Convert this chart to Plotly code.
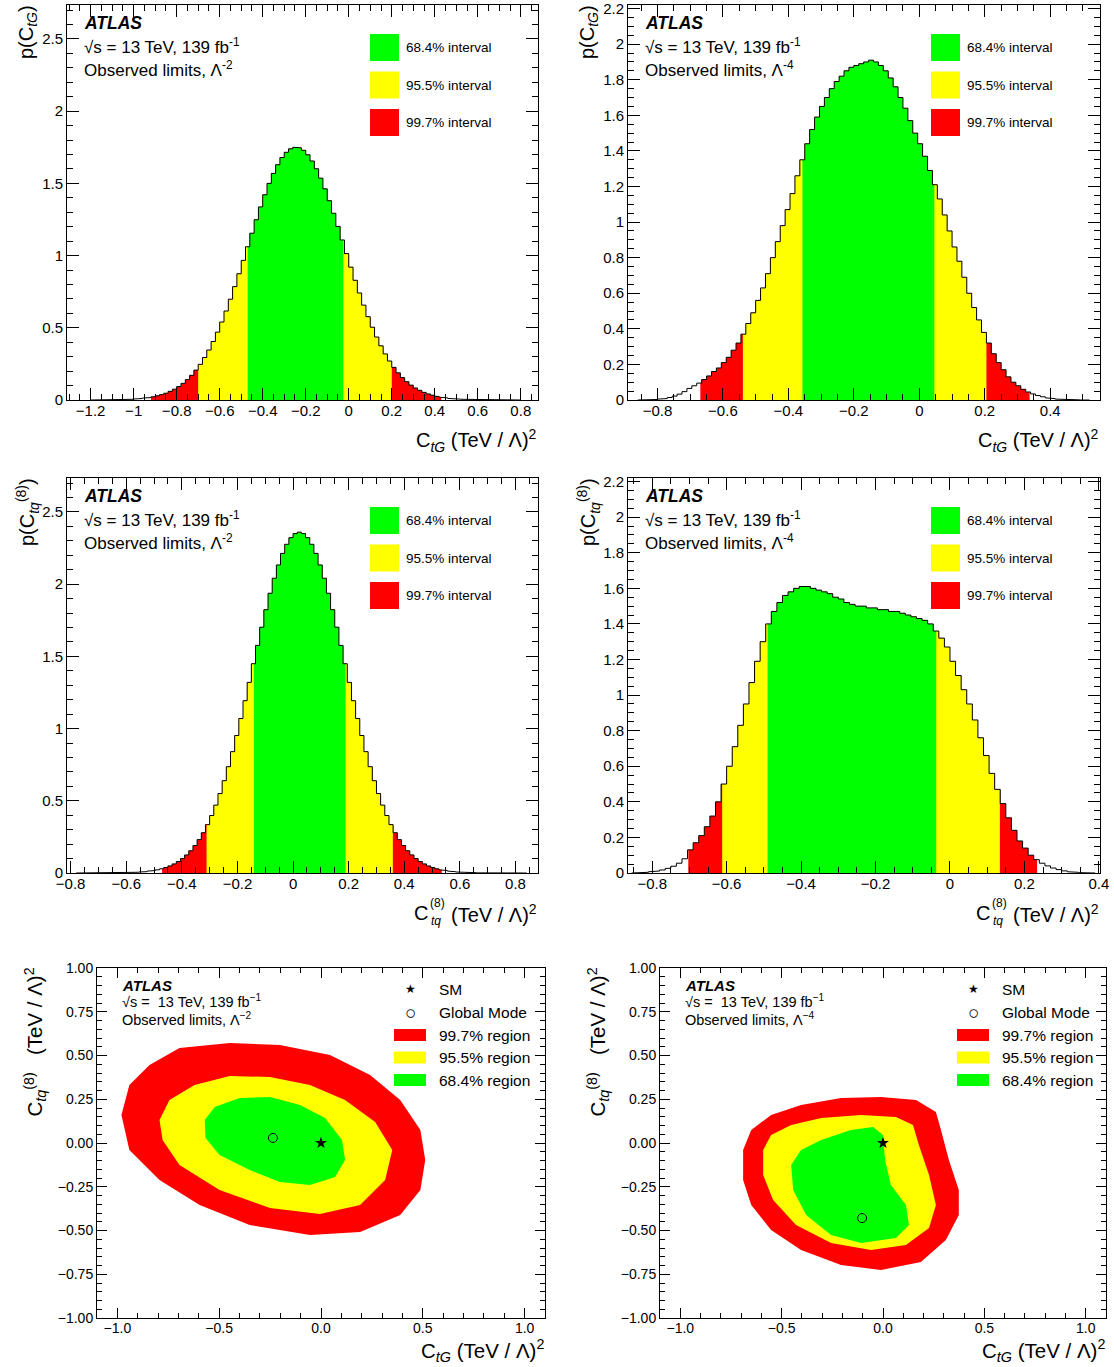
import plotly.graph_objects as go

W, H = 1114, 1367
FONT = "Liberation Sans"
GREEN, YELLOW, RED = "#00ff00", "#ffff00", "#ff0000"

# ---------------- 1D posterior densities ----------------
# C_tG, Lambda^-2
ctg_l2_start, ctg_l2_width = -1.20, 0.02
ctg_l2_density = [
    0.000, 0.000, 0.001, 0.001, 0.001, 0.002, 0.002, 0.003, 0.004, 0.005,
    0.007, 0.010, 0.013, 0.017, 0.022, 0.029, 0.037, 0.047, 0.060, 0.075,
    0.093, 0.115, 0.141, 0.171, 0.207, 0.247, 0.294, 0.346, 0.405, 0.470,
    0.540, 0.616, 0.698, 0.785, 0.874, 0.967, 1.061, 1.155, 1.248, 1.337,
    1.421, 1.500, 1.569, 1.629, 1.679, 1.715, 1.739, 1.750, 1.746, 1.729,
    1.698, 1.655, 1.601, 1.536, 1.462, 1.380, 1.293, 1.202, 1.108, 1.014,
    0.920, 0.829, 0.741, 0.657, 0.577, 0.504, 0.436, 0.375, 0.319, 0.270,
    0.226, 0.188, 0.155, 0.127, 0.103, 0.083, 0.067, 0.053, 0.042, 0.033,
    0.025, 0.019, 0.015, 0.011, 0.008, 0.006, 0.005, 0.003, 0.002, 0.002,
    0.001, 0.001, 0.001, 0.000, 0.000, 0.000, 0.000, 0.000, 0.000, 0.000,
]
ctg_l2_intervals = [(-0.92, 0.43), (-0.70, 0.20), (-0.47, -0.025)]

# C_tG, Lambda^-4
ctg_l4_start, ctg_l4_width = -0.86, 0.015
ctg_l4_density = [
    0.000, 0.001, 0.002, 0.003, 0.005, 0.008, 0.014, 0.022, 0.033, 0.047,
    0.065, 0.080, 0.095, 0.115, 0.135, 0.160, 0.180, 0.210, 0.240, 0.280,
    0.320, 0.370, 0.430, 0.490, 0.560, 0.630, 0.710, 0.800, 0.890, 0.980,
    1.070, 1.160, 1.260, 1.350, 1.440, 1.520, 1.590, 1.650, 1.700, 1.750,
    1.790, 1.820, 1.850, 1.870, 1.880, 1.890, 1.900, 1.910, 1.900, 1.880,
    1.850, 1.810, 1.760, 1.700, 1.640, 1.570, 1.500, 1.440, 1.370, 1.290,
    1.210, 1.130, 1.040, 0.950, 0.860, 0.780, 0.690, 0.600, 0.520, 0.450,
    0.380, 0.320, 0.260, 0.210, 0.170, 0.130, 0.100, 0.080, 0.060, 0.045,
    0.034, 0.025, 0.018, 0.012, 0.008, 0.005, 0.003, 0.002, 0.001, 0.001,
    0.000, 0.000,
]
ctg_l4_intervals = [(-0.669, 0.337), (-0.539, 0.205), (-0.357, 0.046)]

# C_tq^(8), Lambda^-2
ctq_l2_start, ctq_l2_width = -0.78, 0.015
ctq_l2_density = [
    0.000, 0.000, 0.000, 0.000, 0.000, 0.000, 0.000, 0.000, 0.000,
    0.001, 0.001, 0.002, 0.003, 0.004, 0.005, 0.007, 0.009, 0.013, 0.017,
    0.022, 0.029, 0.038, 0.049, 0.063, 0.079, 0.100, 0.125, 0.154, 0.190,
    0.231, 0.279, 0.335, 0.398, 0.470, 0.550, 0.639, 0.736, 0.840, 0.952,
    1.070, 1.193, 1.320, 1.449, 1.576, 1.702, 1.823, 1.937, 2.041, 2.133,
    2.213, 2.276, 2.322, 2.350, 2.360, 2.350, 2.322, 2.276, 2.213, 2.133,
    2.041, 1.937, 1.823, 1.702, 1.576, 1.449, 1.320, 1.193, 1.070, 0.952,
    0.840, 0.736, 0.639, 0.550, 0.470, 0.398, 0.335, 0.279, 0.231, 0.190,
    0.154, 0.125, 0.100, 0.079, 0.063, 0.049, 0.038, 0.029, 0.022, 0.017,
    0.013, 0.009, 0.007, 0.005, 0.004, 0.003, 0.002, 0.001, 0.001,
    0.000, 0.000, 0.000, 0.000, 0.000, 0.000, 0.000, 0.000, 0.000, 0.000,
]
ctq_l2_intervals = [(-0.471, 0.535), (-0.311, 0.359), (-0.141, 0.189)]

# C_tq^(8), Lambda^-4
ctq_l4_start, ctq_l4_width = -0.855, 0.015
ctq_l4_density = [
    0.000, 0.002, 0.004, 0.007, 0.011, 0.017, 0.026, 0.038, 0.055, 0.080,
    0.130, 0.170, 0.210, 0.260, 0.320, 0.400, 0.500, 0.600, 0.710, 0.830,
    0.950, 1.070, 1.190, 1.300, 1.400, 1.470, 1.520, 1.560, 1.580, 1.600,
    1.610, 1.610, 1.600, 1.590, 1.580, 1.570, 1.550, 1.540, 1.520, 1.510,
    1.500, 1.500, 1.490, 1.490, 1.480, 1.480, 1.470, 1.470, 1.460, 1.450,
    1.440, 1.430, 1.420, 1.400, 1.360, 1.320, 1.270, 1.190, 1.110, 1.030,
    0.950, 0.860, 0.760, 0.660, 0.560, 0.470, 0.390, 0.310, 0.240, 0.180,
    0.140, 0.100, 0.075, 0.055, 0.040, 0.028, 0.019, 0.012, 0.007, 0.004,
    0.002, 0.001, 0.000,
]
ctq_l4_intervals = [(-0.703, 0.234), (-0.612, 0.134), (-0.490, -0.037)]

interval_labels = ["68.4% interval", "95.5% interval", "99.7% interval"]

# ---------------- 2D credible regions (C_tG, C_tq^(8)) ----------------
# Lambda^-2
l2_red_x = [-0.980, -0.941, -0.842, -0.695, -0.448, -0.202, 0.044, 0.241, 0.389, 0.488,
            0.512, 0.488, 0.389, 0.192, -0.054, -0.350, -0.596, -0.793, -0.941]
l2_red_y = [0.160, 0.331, 0.446, 0.543, 0.571, 0.560, 0.503, 0.389, 0.246, 0.074,
            -0.097, -0.269, -0.411, -0.509, -0.526, -0.469, -0.354, -0.211, -0.040]
l2_yellow_x = [-0.793, -0.744, -0.621, -0.448, -0.251, -0.054, 0.118, 0.266, 0.350, 0.315,
               0.192, -0.005, -0.251, -0.498, -0.695, -0.778]
l2_yellow_y = [0.131, 0.246, 0.331, 0.383, 0.377, 0.331, 0.246, 0.120, -0.040, -0.211,
               -0.354, -0.406, -0.371, -0.269, -0.126, 0.017]
l2_green_x = [-0.571, -0.522, -0.399, -0.251, -0.103, 0.020, 0.103, 0.118, 0.069, -0.054,
              -0.202, -0.350, -0.498, -0.567]
l2_green_y = [0.131, 0.206, 0.257, 0.263, 0.217, 0.143, 0.017, -0.097, -0.194, -0.240,
              -0.223, -0.154, -0.069, 0.029]
l2_mode = (-0.236, 0.029)

# Lambda^-4
l4_red_x = [-0.690, -0.650, -0.552, -0.404, -0.207, -0.010, 0.163, 0.261, 0.286, 0.325,
            0.374, 0.374, 0.310, 0.187, -0.010, -0.207, -0.404, -0.552, -0.650, -0.690]
l4_red_y = [-0.040, 0.074, 0.160, 0.217, 0.257, 0.263, 0.246, 0.177, 0.074, -0.097,
            -0.269, -0.411, -0.554, -0.680, -0.726, -0.697, -0.611, -0.497, -0.354, -0.211]
l4_yellow_x = [-0.591, -0.552, -0.453, -0.305, -0.108, 0.064, 0.148, 0.177, 0.227, 0.261,
               0.227, 0.113, -0.059, -0.256, -0.429, -0.542, -0.591]
l4_yellow_y = [-0.040, 0.046, 0.103, 0.143, 0.160, 0.149, 0.103, -0.011, -0.183, -0.354,
               -0.486, -0.583, -0.611, -0.571, -0.469, -0.326, -0.183]
l4_green_x = [-0.453, -0.404, -0.305, -0.158, -0.049, 0.000, 0.010, 0.039, 0.113, 0.128,
              0.064, -0.108, -0.256, -0.379, -0.443]
l4_green_y = [-0.126, -0.040, 0.017, 0.074, 0.091, 0.046, -0.097, -0.240, -0.354, -0.469,
              -0.543, -0.571, -0.526, -0.411, -0.269]
l4_mode = (-0.103, -0.429)

sm_point = (0.0, 0.0)
region_labels = ["99.7% region", "95.5% region", "68.4% region"]

# ---------------- helpers ----------------
fig = go.Figure()


def px(xp):
    return xp / W


def py(yp):
    return 1 - yp / H


def stairs(start, width, vals, lo=None, hi=None):
    xs, ys = [], []
    for i, v in enumerate(vals):
        a = start + i * width
        b = a + width
        if lo is not None:
            if b <= lo or a >= hi:
                continue
            a, b = max(a, lo), min(b, hi)
        xs += [a, b]
        ys += [v, v]
    return xs, ys


def text(xp, yp, s, size, xanchor="left", yanchor="middle", angle=0, bold_italic=False):
    if bold_italic:
        s = "<b><i>" + s + "</i></b>"
    fig.add_annotation(x=px(xp), y=py(yp), xref="paper", yref="paper", text=s,
                       showarrow=False, xanchor=xanchor, yanchor=yanchor, textangle=angle,
                       borderpad=0, font=dict(family=FONT, size=size, color="black"))


def box(x0, y0, x1, y1, color):
    fig.add_shape(type="rect", xref="paper", yref="paper", x0=px(x0), x1=px(x1),
                  y0=py(y1), y1=py(y0), fillcolor=color, line=dict(width=0), layer="above")


def axis(rng, dtick, minor, frame, horizontal, fmt=None, size=15, tl=12, ml=6, anchor=None):
    x0, y0, x1, y1 = frame
    dom = [px(x0), px(x1)] if horizontal else [py(y1), py(y0)]
    d = dict(range=rng, domain=dom, showline=True, linecolor="black", linewidth=1,
             mirror="allticks", ticks="inside", ticklen=tl, tickwidth=1, tickcolor="black",
             dtick=dtick, tick0=0, showgrid=False, zeroline=False, fixedrange=True,
             automargin=False, ticklabeloverflow="allow",
             tickfont=dict(family=FONT, size=size, color="black"),
             minor=dict(ticks="inside", ticklen=ml, dtick=minor, tick0=0,
                        tickcolor="black", tickwidth=1, showgrid=False),
             anchor=anchor)
    if horizontal:
        d["ticklabelstandoff"] = -3
    if fmt:
        d["tickformat"] = fmt
    return d


# ---------------- 1D panels ----------------
hist_panels = [
    dict(start=ctg_l2_start, width=ctg_l2_width, vals=ctg_l2_density, iv=ctg_l2_intervals,
         frame=(67, 5, 538, 400), xr=[-1.31, 0.88], yr=[0, 2.735], ydt=0.5, ymin=0.1,
         lam="-2", var="tG"),
    dict(start=ctg_l4_start, width=ctg_l4_width, vals=ctg_l4_density, iv=ctg_l4_intervals,
         frame=(628, 5, 1100, 400), xr=[-0.89, 0.552], yr=[0, 2.22], ydt=0.2, ymin=0.05,
         lam="-4", var="tG"),
    dict(start=ctq_l2_start, width=ctq_l2_width, vals=ctq_l2_density, iv=ctq_l2_intervals,
         frame=(67, 478, 538, 873), xr=[-0.813, 0.881], yr=[0, 2.735], ydt=0.5, ymin=0.1,
         lam="-2", var="tq"),
    dict(start=ctq_l4_start, width=ctq_l4_width, vals=ctq_l4_density, iv=ctq_l4_intervals,
         frame=(628, 478, 1100, 873), xr=[-0.865, 0.403], yr=[0, 2.22], ydt=0.2, ymin=0.05,
         lam="-4", var="tq"),
]

layout_axes = {}
for n, p in enumerate(hist_panels, start=1):
    xa, ya = ("x" if n == 1 else f"x{n}"), ("y" if n == 1 else f"y{n}")
    xkey, ykey = ("xaxis" if n == 1 else f"xaxis{n}"), ("yaxis" if n == 1 else f"yaxis{n}")
    layout_axes[xkey] = axis(p["xr"], 0.2, 0.05, p["frame"], True, anchor=ya)
    layout_axes[ykey] = axis(p["yr"], p["ydt"], p["ymin"], p["frame"], False, anchor=xa)

    for (lo, hi), col in zip(p["iv"], [RED, YELLOW, GREEN]):
        xs, ys = stairs(p["start"], p["width"], p["vals"], lo, hi)
        fig.add_trace(go.Scatter(x=[lo] + xs + [hi], y=[0] + ys + [0], mode="lines",
                                 fill="toself", fillcolor=col, line=dict(width=0),
                                 xaxis=xa, yaxis=ya, hoverinfo="skip", showlegend=False))
    xs, ys = stairs(p["start"], p["width"], p["vals"])
    end = p["start"] + p["width"] * len(p["vals"])
    fig.add_trace(go.Scatter(x=[p["start"]] + xs + [end], y=[0] + ys + [0], mode="lines",
                             line=dict(color="black", width=1), xaxis=xa, yaxis=ya,
                             hoverinfo="skip", showlegend=False))

    fx0, fy0, fx1, fy1 = p["frame"]
    ox, oy = fx0 + 16, fy0
    text(ox, oy + 18, "ATLAS", 17.5, bold_italic=True)
    text(ox, oy + 41, "√s = 13 TeV, 139 fb<sup>-1</sup>", 17)
    text(ox, oy + 64, "Observed limits, Λ<sup>" + p["lam"] + "</sup>", 17)
    lx = fx0 + 303
    for k, (lab, col) in enumerate(zip(interval_labels, [GREEN, YELLOW, RED])):
        yb = oy + 29 + 37.5 * k
        box(lx, yb, lx + 29, yb + 27, col)
        text(lx + 35, yb + 13.5, lab, 13.5)

    # axis titles
    if p["var"] == "tG":
        text(fx1, fy1 + 40, "C<sub><i>tG</i></sub> (TeV / Λ)<sup>2</sup>", 20, xanchor="right")
        text(fx0 - 40, fy0 - 1, "p(C<sub><i>tG</i></sub>)", 20, xanchor="center",
             yanchor="top", angle=-90)
    else:
        text(fx1, fy1 + 40, "(TeV / Λ)<sup>2</sup>", 20, xanchor="right")
        text(fx1 - 109, fy1 + 40, "C", 20, xanchor="right")
        text(fx1 - 109, fy1 + 30, "(8)", 12)
        text(fx1 - 108, fy1 + 48, "<i>tq</i>", 12)
        text(fx0 - 40, fy0 - 1, "p(C<sub><i>tq</i></sub><sup>(8)</sup>)", 20, xanchor="center",
             yanchor="top", angle=-90)

# ---------------- 2D panels ----------------
regions = [
    dict(frame=(97, 968, 545, 1318), lam="−2",
         polys=[(l2_red_x, l2_red_y, RED), (l2_yellow_x, l2_yellow_y, YELLOW),
                (l2_green_x, l2_green_y, GREEN)], mode=l2_mode),
    dict(frame=(660, 968, 1106, 1318), lam="−4",
         polys=[(l4_red_x, l4_red_y, RED), (l4_yellow_x, l4_yellow_y, YELLOW),
                (l4_green_x, l4_green_y, GREEN)], mode=l4_mode),
]

for n, r in enumerate(regions, start=5):
    xa, ya = f"x{n}", f"y{n}"
    layout_axes[f"xaxis{n}"] = axis([-1.1, 1.1], 0.5, 0.1, r["frame"], True, fmt=".1f",
                                    size=14, tl=10, ml=5, anchor=ya)
    layout_axes[f"yaxis{n}"] = axis([-1.0, 1.0], 0.25, 0.05, r["frame"], False, fmt=".2f",
                                    size=14, tl=10, ml=5, anchor=xa)
    for xs, ys, col in r["polys"]:
        fig.add_trace(go.Scatter(x=xs + [xs[0]], y=ys + [ys[0]], mode="lines", fill="toself",
                                 fillcolor=col, line=dict(width=0), xaxis=xa, yaxis=ya,
                                 hoverinfo="skip", showlegend=False))
    fig.add_trace(go.Scatter(x=[sm_point[0]], y=[sm_point[1]], mode="markers",
                             marker=dict(symbol="star", size=9, color="black"),
                             xaxis=xa, yaxis=ya, hoverinfo="skip", showlegend=False))
    fig.add_trace(go.Scatter(x=[r["mode"][0]], y=[r["mode"][1]], mode="markers",
                             marker=dict(symbol="circle-open", size=9, color="black",
                                         line=dict(width=1)),
                             xaxis=xa, yaxis=ya, hoverinfo="skip", showlegend=False))

    fx0, fy0, fx1, fy1 = r["frame"]
    ox = fx0 + 24
    text(ox, fy0 + 17, "ATLAS", 15, bold_italic=True)
    text(ox, fy0 + 33, "√s =  13 TeV, 139 fb<sup>−1</sup>", 14.5)
    text(ox, fy0 + 51, "Observed limits, Λ<sup>" + r["lam"] + "</sup>", 14.5)
    lx = fx0 + 313
    text(lx, fy0 + 21, "★", 12, xanchor="center")
    text(lx + 28, fy0 + 21, "SM", 15.5)
    text(lx, fy0 + 44, "○", 19, xanchor="center")
    text(lx + 28, fy0 + 44, "Global Mode", 15.5)
    for k, (lab, col) in enumerate(zip(region_labels, [RED, YELLOW, GREEN])):
        yc = fy0 + 67 + 22.5 * k
        box(lx - 16, yc - 6, lx + 16, yc + 6, col)
        text(lx + 28, yc, lab, 15.5)

    text(fx1, fy1 + 32, "C<sub><i>tG</i></sub> (TeV / Λ)<sup>2</sup>", 20.5, xanchor="right")
    text(fx0 - 62, fy0 - 1, "C<sub><i>tq</i></sub><sup>(8)</sup>   (TeV / Λ)<sup>2</sup>", 20.5,
         xanchor="center", yanchor="top", angle=-90)

fig.update_layout(template="none", width=W, height=H, margin=dict(l=0, r=0, t=0, b=0),
                  autosize=False, paper_bgcolor="white", plot_bgcolor="white",
                  showlegend=False, font=dict(family=FONT, color="black"), **layout_axes)

fig.write_html("out.html")
